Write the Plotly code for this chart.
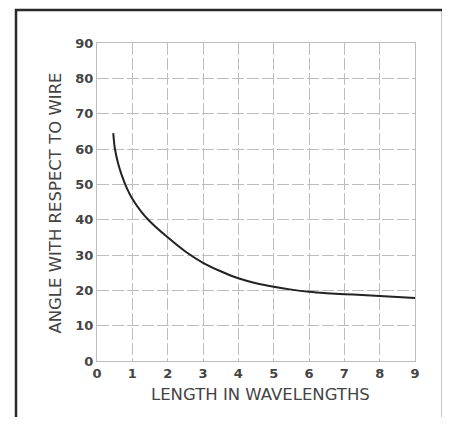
import plotly.graph_objects as go

# Data
length_wl = [0.46, 0.5, 0.6, 0.7, 0.85, 1.0, 1.25, 1.5, 2.0, 2.5, 3.0, 3.5, 4.0, 4.5, 5.0, 5.5, 6.0, 6.5, 7.0, 7.5, 8.0, 8.5, 9.0]
angle_deg = [64.5, 60.5, 55.8, 52.6, 48.8, 45.9, 42.3, 39.5, 35.0, 31.0, 27.8, 25.4, 23.4, 22.0, 21.0, 20.2, 19.6, 19.2, 18.9, 18.7, 18.4, 18.1, 17.8]

x_ticks = [0, 1, 2, 3, 4, 5, 6, 7, 8, 9]
y_ticks = [0, 10, 20, 30, 40, 50, 60, 70, 80, 90]

x_title = "LENGTH IN WAVELENGTHS"
y_title = "ANGLE WITH RESPECT TO WIRE"

FONT = "DejaVu Sans"
grid_col = "#bdbdbd"
text_col = "#444444"

fig = go.Figure()
fig.add_trace(go.Scatter(
    x=length_wl, y=angle_deg, mode="lines",
    line=dict(color="#222222", width=2, shape="spline", smoothing=0.6),
    hoverinfo="skip", showlegend=False,
))

axis_common = dict(
    showgrid=True, gridcolor=grid_col, gridwidth=1, griddash="12px,3px",
    showline=True, linecolor=grid_col, linewidth=1, mirror=True,
    zeroline=False, ticks="", ticklen=0, automargin=False,
    tickfont=dict(family=FONT, size=13, color=text_col, weight="bold"),
)

# page body has an 8px default margin: figure is sized/offset to compensate
fig.update_layout(
    width=442, height=409,
    margin=dict(l=89, r=35, t=35, b=56),
    paper_bgcolor="white", plot_bgcolor="white",
    xaxis=dict(range=[0, 9], tickvals=x_ticks, ticktext=[str(v) for v in x_ticks], **axis_common),
    yaxis=dict(range=[0, 90], tickvals=y_ticks, ticktext=[str(v) for v in y_ticks], **axis_common),
    annotations=[
        dict(text=x_title, xref="paper", yref="paper", x=0.5126, y=-0.1038,
             xanchor="center", yanchor="middle", showarrow=False,
             font=dict(family=FONT, size=16.5, color=text_col)),
        dict(text=y_title, xref="paper", yref="paper", x=-0.129, y=0.498,
             xanchor="center", yanchor="middle", showarrow=False, textangle=-90,
             font=dict(family=FONT, size=16.5, color=text_col)),
    ],
    shapes=[dict(type="rect", xref="paper", yref="paper",
                 x0=-0.2547, x1=1.088, y0=-0.25, y1=1.1038,
                 line=dict(color="#2a2a2a", width=2.5), layer="below")],
)

fig.write_html("out.html")
